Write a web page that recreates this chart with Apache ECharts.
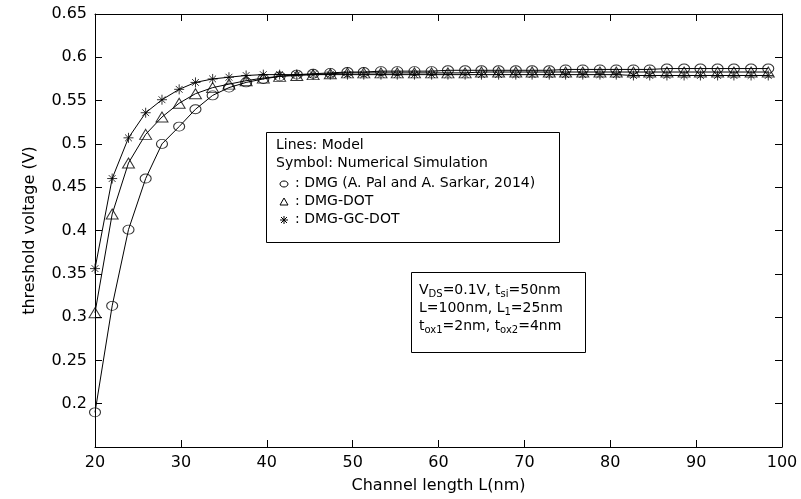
<!DOCTYPE html>
<html><head><meta charset="utf-8">
<script src="https://cdn.jsdelivr.net/npm/echarts@6/dist/echarts.min.js"></script>
<style>html,body{margin:0;padding:0;background:#fff}#c{width:801px;height:499px}</style>
</head><body><div id="c"></div>
<script>
// Channel length (nm) of the plotted samples
const channelLength = [20,22.0,23.9,25.9,27.8,29.8,31.7,33.7,35.6,37.6,39.6,41.5,43.5,45.4,47.4,49.4,51.3,53.3,55.2,57.2,59.2,61.1,63.1,65.0,67.0,69.0,70.9,72.9,74.8,76.8,78.8,80.7,82.7,84.6,86.6,88.6,90.5,92.5,94.4,96.4,98.4];
// Threshold voltage (V)
const dmgPal = [0.190,0.313,0.401,0.460,0.500,0.520,0.540,0.556,0.565,0.571,0.575,0.578,0.580,0.581,0.582,0.583,0.583,0.584,0.584,0.584,0.584,0.585,0.585,0.585,0.585,0.585,0.585,0.585,0.586,0.586,0.586,0.586,0.586,0.586,0.587,0.587,0.587,0.587,0.587,0.587,0.587];
const dmgDot = [0.305,0.419,0.478,0.511,0.531,0.547,0.558,0.565,0.569,0.573,0.576,0.578,0.579,0.580,0.581,0.582,0.582,0.582,0.582,0.582,0.582,0.582,0.582,0.583,0.583,0.583,0.583,0.583,0.583,0.583,0.583,0.583,0.583,0.583,0.583,0.583,0.583,0.583,0.583,0.583,0.583];
const dmgGcDot = [0.356,0.460,0.507,0.536,0.551,0.563,0.571,0.575,0.577,0.579,0.580,0.580,0.580,0.580,0.580,0.580,0.580,0.580,0.580,0.580,0.580,0.580,0.580,0.580,0.580,0.580,0.580,0.580,0.580,0.580,0.580,0.580,0.579,0.579,0.579,0.579,0.579,0.579,0.579,0.579,0.579];
const xAxisRange = {min: 20, max: 100, interval: 10};
const yAxisRange = {min: 0.15, max: 0.65, interval: 0.05};
const legendLines = ['Lines: Model', 'Symbol: Numerical Simulation'];
const seriesNames = [': DMG (A. Pal and A. Sarkar, 2014)', ': DMG-DOT', ': DMG-GC-DOT'];

const FONT = 'DejaVu Sans';
const pairs = arr => channelLength.map((x, i) => [x, arr[i]]);
const starPath = 'path://M5,0L5,10M0,5L10,5M1.6,1.6L8.4,8.4M1.6,8.4L8.4,1.6';
const hollow = {color: 'transparent', borderColor: '#000', borderWidth: 1};

function lineSeries(name, arr) {
  return {name, type: 'line', data: pairs(arr), smooth: false, showSymbol: false,
    lineStyle: {color: '#000', width: 1}, z: 2, silent: true};
}
function markSeries(name, arr, symbol, size) {
  return {name, type: 'scatter', data: pairs(arr), symbol, symbolSize: size,
    itemStyle: hollow, z: 3, silent: true};
}

const axisCommon = {
  axisLine: {show: true, onZero: false, lineStyle: {color: '#000', width: 1}},
  axisTick: {show: true, inside: true, length: 7, lineStyle: {color: '#000', width: 1}},
  splitLine: {show: false}
};

const chart = echarts.init(document.getElementById('c'), null, {renderer: 'canvas'});
chart.setOption({
  animation: false,
  backgroundColor: '#fff',
  grid: {left: 95, right: 19, top: 14, bottom: 50, containLabel: false},
  xAxis: [
    Object.assign({type: 'value', position: 'bottom', ...xAxisRange,
      name: 'Channel length L(nm)', nameLocation: 'middle', nameGap: 31,
      nameTextStyle: {fontFamily: FONT, fontSize: 16, color: '#000'},
      axisLabel: {fontFamily: FONT, fontSize: 16, color: '#000', margin: 8}}, axisCommon),
    Object.assign({type: 'value', position: 'top', ...xAxisRange, axisLabel: {show: false}}, axisCommon)
  ],
  yAxis: [
    Object.assign({type: 'value', position: 'left', ...yAxisRange,
      name: 'threshold voltage (V)', nameLocation: 'middle', nameGap: 57,
      nameTextStyle: {fontFamily: FONT, fontSize: 16, color: '#000'},
      axisLabel: {fontFamily: FONT, fontSize: 16, color: '#000', margin: 8,
        formatter: v => (v < 0.175 ? '' : String(+v.toFixed(2)))}}, axisCommon),
    Object.assign({type: 'value', position: 'right', ...yAxisRange, axisLabel: {show: false}}, axisCommon)
  ],
  series: [
    lineSeries('pal-line', dmgPal),
    lineSeries('dot-line', dmgDot),
    lineSeries('gc-line', dmgGcDot),
    markSeries('pal', dmgPal, 'circle', [11, 9]),
    markSeries('dot', dmgDot, 'triangle', [12, 10]),
    markSeries('gc', dmgGcDot, starPath, [10, 10])
  ],
  graphic: [
    {type: 'rect', shape: {x: 266.5, y: 132.5, width: 293, height: 110},
      style: {fill: '#fff', stroke: '#000', lineWidth: 1}, z: 10},
    {type: 'text', x: 276, y: 145, z: 11, style: {text: legendLines[0], fontFamily: FONT, fontSize: 14, fill: '#000', verticalAlign: 'middle'}},
    {type: 'text', x: 276, y: 163, z: 11, style: {text: legendLines[1], fontFamily: FONT, fontSize: 14, fill: '#000', verticalAlign: 'middle'}},
    {type: 'ellipse', shape: {cx: 284, cy: 184, rx: 4, ry: 3}, style: {fill: 'none', stroke: '#000', lineWidth: 1}, z: 11},
    {type: 'polygon', shape: {points: [[280, 205], [288, 205], [284, 198]]}, style: {fill: 'none', stroke: '#000', lineWidth: 1}, z: 11},
    {type: 'group', z: 11, children: [
      {type: 'line', shape: {x1: 284, y1: 216, x2: 284, y2: 224}, style: {stroke: '#000', lineWidth: 1}, z: 11},
      {type: 'line', shape: {x1: 280, y1: 220, x2: 288, y2: 220}, style: {stroke: '#000', lineWidth: 1}, z: 11},
      {type: 'line', shape: {x1: 281, y1: 217, x2: 287, y2: 223}, style: {stroke: '#000', lineWidth: 1}, z: 11},
      {type: 'line', shape: {x1: 281, y1: 223, x2: 287, y2: 217}, style: {stroke: '#000', lineWidth: 1}, z: 11}
    ]},
    {type: 'text', x: 295, y: 183, z: 11, style: {text: seriesNames[0], fontFamily: FONT, fontSize: 14, fill: '#000', verticalAlign: 'middle'}},
    {type: 'text', x: 295, y: 201, z: 11, style: {text: seriesNames[1], fontFamily: FONT, fontSize: 14, fill: '#000', verticalAlign: 'middle'}},
    {type: 'text', x: 295, y: 219, z: 11, style: {text: seriesNames[2], fontFamily: FONT, fontSize: 14, fill: '#000', verticalAlign: 'middle'}},

    {type: 'rect', shape: {x: 411.5, y: 272.5, width: 174, height: 80},
      style: {fill: '#fff', stroke: '#000', lineWidth: 1}, z: 10},
    {type: 'text', x: 419, y: 281, z: 11, style: {
      text: '{a|V}{s|DS}{a|=0.1V, t}{s|si}{a|=50nm}\n{a|L=100nm, L}{s|1}{a|=25nm}\n{a|t}{s|ox1}{a|=2nm, t}{s|ox2}{a|=4nm}',
      fill: '#000', fontFamily: FONT, fontSize: 14,
      rich: {
        a: {fontFamily: FONT, fontSize: 14, lineHeight: 18, fill: '#000', verticalAlign: 'middle'},
        s: {fontFamily: FONT, fontSize: 10, lineHeight: 10, fill: '#000', verticalAlign: 'bottom'}
      }}}
  ]
});
</script>
</body></html>
